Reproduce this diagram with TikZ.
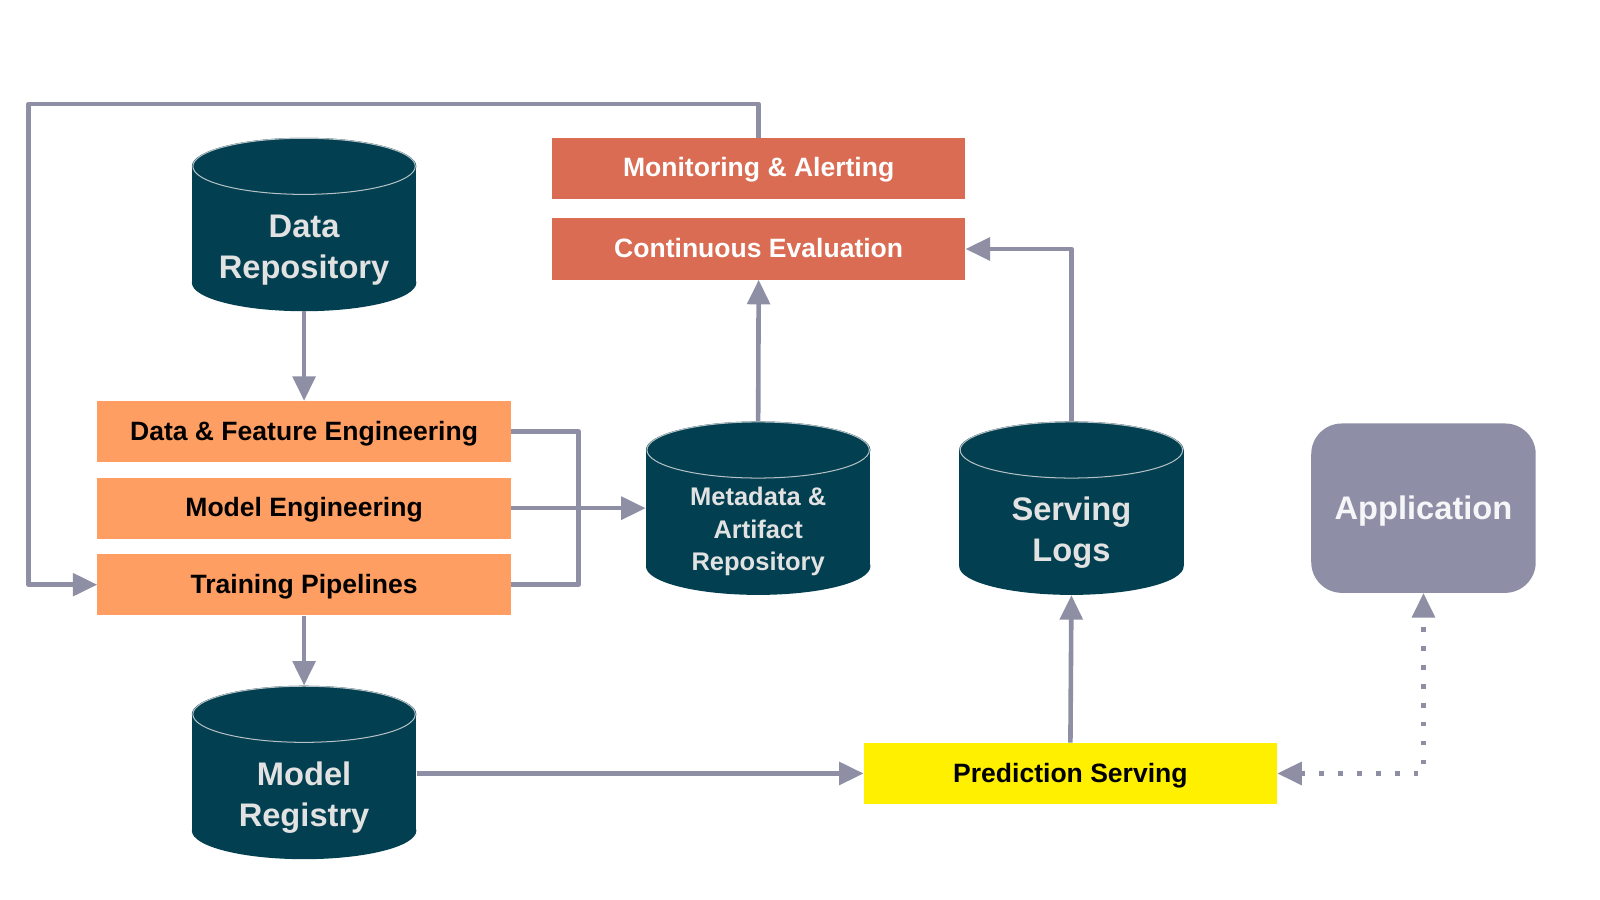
\documentclass[tikz,border=0pt]{standalone}
\usepackage{fontspec}
\setmainfont{Liberation Sans}
\usetikzlibrary{arrows.meta}
\definecolor{cylfill}{HTML}{023F50}
\definecolor{cyltext}{HTML}{E2E2E2}
\definecolor{orangebox}{HTML}{FF9E62}
\definecolor{coralbox}{HTML}{DA6C54}
\definecolor{yellowbox}{HTML}{FFF000}
\definecolor{arrowgray}{HTML}{8E8FA5}
\definecolor{appfill}{HTML}{8E8FA6}
\tikzset{
  procbox/.style={rectangle, minimum width=405pt, minimum height=60pt, inner sep=0pt, text depth=2pt, font=\bfseries\fontsize{26}{30}\selectfont},
  featbox/.style={procbox, fill=orangebox, text=black},
  monbox/.style={procbox, fill=coralbox, text=white},
  servebox/.style={procbox, fill=yellowbox, text=black},
  cylanchor/.style={rectangle, minimum width=220pt, minimum height=170pt, inner sep=0pt},
  cyllabel/.style={align=center, text=cyltext, font=\bfseries\fontsize{32}{40}\selectfont},
  cyllabelsmall/.style={align=center, text=cyltext, font=\bfseries\fontsize{25}{32}\selectfont},
  conn/.style={draw=arrowgray, line width=4.5pt, line join=round},
  arr/.style={conn, -{Triangle[length=24pt,width=22pt]}},
  dotarr/.style={draw=arrowgray, line width=4.5pt, dash pattern=on 4.5pt off 14pt,
    {Triangle[length=24pt,width=22pt]}-{Triangle[length=24pt,width=22pt]}},
}
\newcommand{\drawcyl}[3]{%
  \fill[cylfill] ({#2-110},{#3-57}) rectangle ({#2+110},{#3+57});
  \fill[cylfill] (#2,{#3+57}) ellipse [x radius=110, y radius=28];
  \fill[cylfill] (#2,{#3-57}) ellipse [x radius=110, y radius=28];
  \draw[cyltext!80!cylfill, line width=1pt] (#2,{#3-57}) ellipse [x radius=109, y radius=27.5];
  \node[cylanchor] (#1) at (#2,#3) {};
}
\begin{document}
\begin{tikzpicture}[x=1pt,y=-1pt]
\useasboundingbox (0,0) rectangle (1568,882);
% cylinders
\drawcyl{dr}{298}{220}
\node[cyllabel] (drt) at (298,245) {Data\\Repository};
\drawcyl{meta}{743}{498}
\node[cyllabelsmall] (metat) at (743,521) {Metadata \&\\Artifact\\Repository};
\drawcyl{sl}{1050}{498}
\node[cyllabel] (slt) at (1050,522) {Serving\\Logs};
\drawcyl{mr}{298}{757}
\node[cyllabel] (mrt) at (298,782) {Model\\Registry};
% boxes
\node[featbox] (dfe) at (298,423) {Data \& Feature Engineering};
\node[featbox] (me) at (298,498) {Model Engineering};
\node[featbox] (tp) at (298,573) {Training Pipelines};
\node[monbox] (ma) at (743.5,165) {Monitoring \& Alerting};
\node[monbox] (ce) at (743.5,244) {Continuous Evaluation};
\node[servebox] (ps) at (1049,758) {Prediction Serving};
\node[rectangle, rounded corners=30pt, fill=appfill, minimum width=220pt, minimum height=166pt,
  text depth=0pt, text=white!92!appfill, font=\bfseries\fontsize{32}{38}\selectfont] (app) at (1395,498) {Application};
% connectors
\draw[arr] (dr.south) -- (dfe.north);
\draw[arr] (tp.south) -- (mr.north);
\coordinate (brk) at (567,573);
\draw[conn] (dfe.east) -| (brk) -- (tp.east);
\draw[arr] (me.east) -- (meta.west);
\draw[arr] (meta.north) -- (ce.south);
\draw[arr] (sl.north) |- (ce.east);
\coordinate (loopc) at (28,102);
\draw[arr] (ma.north) |- (loopc) |- (tp.west);
\draw[arr] (mr.east |- ps.west) -- (ps.west);
\draw[arr] (ps.north) -- (sl.south);
\coordinate (dotc) at (1395,758);
\draw[dotarr] (ps.east) -- (dotc) -- (app.south);
\end{tikzpicture}
\end{document}
